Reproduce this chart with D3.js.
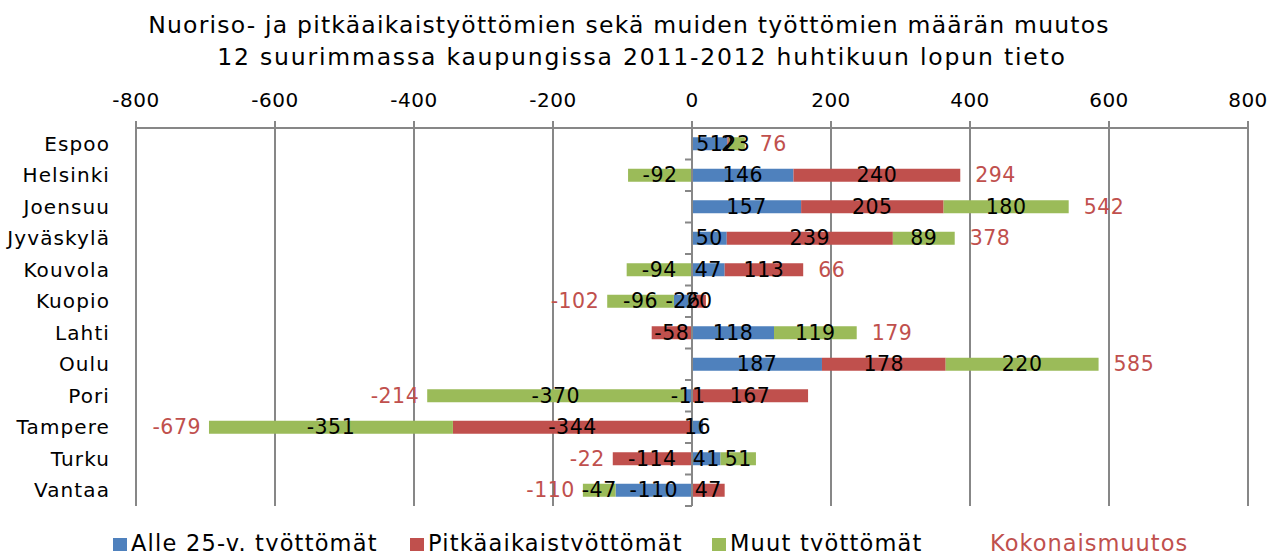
<!DOCTYPE html>
<html>
<head>
<meta charset="utf-8">
<script src="https://cdn.jsdelivr.net/npm/d3@7"></script>
<style>
  body { margin: 0; background: #fff; }
  text { font-family: "DejaVu Sans", Verdana, sans-serif; }
</style>
</head>
<body>
<div id="chart"></div>
<script>
// data
const cities = ['Espoo', 'Helsinki', 'Joensuu', 'Jyväskylä', 'Kouvola', 'Kuopio',
  'Lahti', 'Oulu', 'Pori', 'Tampere', 'Turku', 'Vantaa'];
const alle25 = [51, 146, 157, 50, 47, -26, 118, 187, -11, 16, 41, -110];
const pitka  = [2, 240, 205, 239, 113, 20, -58, 178, 167, -344, -114, 47];
const muut   = [23, -92, 180, 89, -94, -96, 119, 220, -370, -351, 51, -47];
const total  = [76, 294, 542, 378, 66, -102, 179, 585, -214, -679, -22, -110];
const xTicks = [-800, -600, -400, -200, 0, 200, 400, 600, 800];
const seriesNames = ['Alle 25-v. työttömät', 'Pitkäaikaistyöttömät', 'Muut työttömät'];
const totalName = 'Kokonaismuutos';
const titleLines = ['Nuoriso- ja pitkäaikaistyöttömien sekä muiden työttömien määrän muutos',
  '12 suurimmassa kaupungissa 2011-2012 huhtikuun lopun tieto'];

const W = 1271, H = 551;
const colors = ['#4F81BD', '#C0504D', '#9BBB59'];
const totalColor = '#C0504D';
const gridColor = '#878787';

const svg = d3.select('#chart').append('svg')
  .attr('width', W).attr('height', H).attr('viewBox', '0 0 ' + W + ' ' + H);

const rows = cities.map((c, i) => ({city: c, s0: alle25[i], s1: pitka[i], s2: muut[i], total: total[i]}));
const stack = d3.stack().keys(['s0', 's1', 's2']).offset(d3.stackOffsetDiverging);
const layers = stack(rows);

const x = d3.scaleLinear().domain([-800, 800]).range([136, 1248]);
const y = d3.scaleBand().domain(cities).range([128, 506]);
const barH = 13;
const midY = d => y(d) + y.bandwidth() / 2;

// title
svg.selectAll('text.title').data(titleLines).enter().append('text').attr('class', 'title')
  .attr('x', (d, i) => i == 0 ? 629 : 642).attr('y', (d, i) => 33 + i * 32)
  .attr('text-anchor', 'middle').style('font-size', '23.5px')
  .style('letter-spacing', (d, i) => i == 0 ? '1.2px' : '1.8px')
  .style('fill', '#000').text(d => d);

// vertical gridlines + top axis
const grid = svg.append('g');
grid.selectAll('line.grid').data(xTicks.filter(d => d !== 0)).enter().append('line')
  .attr('x1', d => x(d)).attr('x2', d => x(d)).attr('y1', 121).attr('y2', 506)
  .style('stroke', gridColor).style('stroke-width', 2);
grid.append('line')
  .attr('x1', x(-800)).attr('x2', x(800)).attr('y1', 128).attr('y2', 128)
  .style('stroke', gridColor).style('stroke-width', 2);
grid.append('line')
  .attr('x1', x(0)).attr('x2', x(0)).attr('y1', 121).attr('y2', 128)
  .style('stroke', gridColor).style('stroke-width', 2);
grid.selectAll('text.tick').data(xTicks).enter().append('text').attr('class', 'tick')
  .attr('x', d => x(d)).attr('y', 107).attr('text-anchor', 'middle')
  .style('font-size', '20px').style('letter-spacing', '0.5px').style('fill', '#000').text(d => d);

// category labels
svg.selectAll('text.cat').data(cities).enter().append('text').attr('class', 'cat')
  .attr('x', 110).attr('y', d => midY(d) + 7)
  .attr('text-anchor', 'end').style('font-size', '20px').style('letter-spacing', '1.1px')
  .style('fill', '#000').text(d => d);

// bars
const lg = svg.selectAll('g.layer').data(layers).enter().append('g').attr('class', 'layer')
  .style('fill', (d, i) => colors[i]);
lg.selectAll('rect').data(d => d).enter().append('rect')
  .attr('x', d => x(Math.min(d[0], d[1])))
  .attr('width', d => Math.abs(x(d[1]) - x(d[0])))
  .attr('y', d => midY(d.data.city) - barH / 2)
  .attr('height', barH);

// category axis at zero
const ax = svg.append('g');
ax.append('line')
  .attr('x1', x(0)).attr('x2', x(0)).attr('y1', 128).attr('y2', 506)
  .style('stroke', gridColor).style('stroke-width', 2);
ax.selectAll('line.ctick').data(d3.range(cities.length + 1)).enter().append('line')
  .attr('x1', x(0) - 7).attr('x2', x(0))
  .attr('y1', i => 128 + i * y.step()).attr('y2', i => 128 + i * y.step())
  .style('stroke', gridColor).style('stroke-width', 2);

// segment labels (drawn after all bars)
const labels = svg.append('g');
layers.forEach(layer => {
  labels.selectAll(null).data(layer).enter().append('text')
    .attr('x', d => x((d[0] + d[1]) / 2))
    .attr('y', d => midY(d.data.city) + 7)
    .attr('text-anchor', 'middle').style('font-size', '20.5px').style('letter-spacing', '0.5px')
    .style('fill', '#000')
    .text(d => d.data[layer.key]);
});

// total labels
const posEnd = rows.map((r, i) => d3.max(layers, l => l[i][1]));
const negEnd = rows.map((r, i) => d3.min(layers, l => l[i][0]));
svg.selectAll('text.total').data(rows).enter().append('text').attr('class', 'total')
  .attr('x', (d, i) => d.total >= 0 ? x(posEnd[i]) + 15 : x(negEnd[i]) - 8)
  .attr('y', d => midY(d.city) + 7)
  .attr('text-anchor', d => d.total >= 0 ? 'start' : 'end')
  .style('font-size', '20.5px').style('letter-spacing', '0.5px')
  .style('fill', totalColor).text(d => d.total);

// legend
const legX = [113, 410, 712];
const leg = svg.append('g');
seriesNames.forEach((n, i) => {
  leg.append('rect').attr('x', legX[i]).attr('y', 538).attr('width', 14).attr('height', 14)
    .style('fill', colors[i]);
  leg.append('text').attr('x', legX[i] + 18).attr('y', 551)
    .style('font-size', '22.5px').style('letter-spacing', '1.2px').style('fill', '#000').text(n);
});
leg.append('text').attr('x', 990).attr('y', 551)
  .style('font-size', '22.5px').style('letter-spacing', '1px').style('fill', totalColor).text(totalName);
</script>
</body>
</html>
